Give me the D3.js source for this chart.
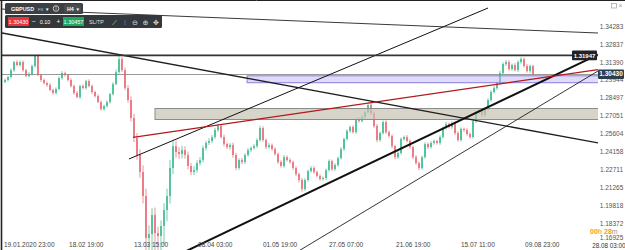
<!DOCTYPE html>
<html>
<head>
<meta charset="utf-8">
<script src="https://cdn.jsdelivr.net/npm/d3@7"></script>
<style>
body { margin: 0; background: #fff; }
svg { display: block; font-family: "Liberation Sans", Arial, sans-serif; }
</style>
</head>
<body>
<svg id="chart" width="625" height="250"></svg>
<script>
// GBPUSD H4, prices kept in pips (price * 10000)
var firstOpen = 12980;
var closes = [
  12996, 13020, 13076, 13141, 13117, 13141, 13076, 13028, 13044, 13109,
  13190, 13036, 12996, 12971, 12955, 12915, 12891, 12923, 13012, 13052,
  13036, 12996, 12947, 12891, 12858, 12947, 12931, 12987, 12947, 12899,
  12866, 12818, 12761, 12785, 12818, 12882, 12963, 13060, 13165, 13076,
  12931, 12834, 12689, 12527, 12390, 12252, 12058, 11719, 11751, 11905,
  11759, 11735, 11816, 11945, 12058, 12285, 12462, 12414, 12398, 12430,
  12390, 12301, 12252, 12268, 12325, 12349, 12446, 12487, 12503, 12535,
  12592, 12624, 12535, 12478, 12454, 12470, 12390, 12285, 12349, 12333,
  12390, 12430, 12446, 12462, 12511, 12608, 12511, 12454, 12470, 12438,
  12398, 12333, 12301, 12373, 12349, 12333, 12285, 12236, 12188, 12115,
  12188, 12260, 12285, 12252, 12220, 12196, 12204, 12268, 12341, 12276,
  12309, 12365, 12438, 12519, 12584, 12616, 12575, 12680, 12664, 12697,
  12737, 12794, 12729, 12624, 12511, 12567, 12656, 12575, 12543, 12462,
  12373, 12406, 12519, 12535, 12503, 12454, 12373, 12325, 12285, 12373,
  12478, 12454, 12487, 12503, 12487, 12535, 12608, 12640, 12616, 12648,
  12567, 12511, 12600, 12592, 12559, 12535, 12664, 12737, 12745, 12713,
  12761, 12834, 12899, 12931, 12971, 13052, 13125, 13141, 13084, 13117,
  13076, 13141, 13165, 13109, 13068, 13109, 13043
];
var wickHi = [
  12, 10, 14, 9, 16, 11, 13, 10, 15, 12,
  10, 14, 9, 12, 11, 16, 10, 13, 12, 15,
  11, 9, 14, 12, 16, 10, 13, 11, 15, 12,
  10, 14, 12, 11, 13, 9, 16, 20, 35, 18,
  22, 25, 30, 35, 40, 45, 55, 60, 70, 55,
  60, 50, 45, 55, 60, 65, 50, 45, 40, 35,
  30, 28, 25, 30, 22, 25, 20, 18, 22, 16,
  18, 20, 15, 18, 14, 16, 20, 17, 15, 18,
  14, 16, 12, 15, 13, 18, 14, 12, 16, 13,
  15, 12, 14, 16, 13, 15, 12, 14, 11, 15,
  13, 12, 16, 14, 11, 15, 13, 12, 14, 11,
  15, 13, 16, 12, 14, 13, 15, 12, 16, 14,
  13, 18, 15, 12, 16, 14, 13, 15, 12, 14,
  11, 15, 13, 12, 16, 14, 12, 15, 13, 11,
  14, 12, 15, 13, 11, 14, 12, 16, 13, 15,
  12, 14, 13, 11, 15, 12, 14, 13, 16, 12,
  14, 13, 15, 16, 12, 18, 14, 16, 15, 13,
  17, 14, 15, 13, 16, 12, 10
];
var wickLo = [
  10, 13, 9, 15, 11, 12, 14, 10, 13, 11,
  12, 10, 15, 11, 14, 9, 13, 12, 10, 14,
  13, 11, 12, 15, 10, 14, 12, 13, 11, 16,
  12, 10, 13, 15, 11, 14, 12, 10, 14, 16,
  18, 22, 28, 32, 38, 45, 60, 300, 300, 180,
  220, 240, 200, 150, 90, 60, 50, 45, 40, 35,
  30, 28, 25, 24, 22, 20, 18, 20, 16, 18,
  15, 17, 14, 18, 16, 20, 22, 18, 15, 16,
  14, 13, 16, 12, 15, 14, 13, 16, 12, 15,
  14, 16, 13, 15, 12, 14, 16, 18, 20, 22,
  16, 14, 13, 15, 12, 14, 13, 16, 12, 15,
  13, 14, 12, 16, 13, 15, 12, 14, 13, 12,
  14, 13, 16, 15, 18, 14, 12, 15, 13, 16,
  18, 14, 13, 15, 12, 14, 16, 13, 18, 14,
  13, 15, 12, 14, 13, 15, 12, 14, 13, 15,
  16, 14, 12, 15, 13, 14, 12, 15, 13, 14,
  12, 15, 14, 13, 16, 12, 14, 15, 13, 14,
  12, 15, 13, 14, 12, 16, 10
];

var priceTicks = [1.34283, 1.32837, 1.31390, 1.29944, 1.28497, 1.27051, 1.25604,
  1.24158, 1.22711, 1.21265, 1.19818, 1.18372, 1.16925];
var timeTickIdx = [0, 21.7, 43.3, 64.7, 86.3, 108.3, 130.7, 152.3, 173.7];
var timeTickLabels = ["19.01.2020 23:00", "18.02 19:00", "13.03 15:00", "08.04 03:00",
  "01.05 19:00", "27.05 07:00", "21.06 19:00", "15.07 11:00", "09.08 23:00"];

var bidPrice = 1.30430;
var askPrice = 1.30457;
var lotSize = "0.10";
var levelPrice = 1.31947;
var purpleZone = [80.7, 1.29740, 1.30300];   // from candle index, low, high
var grayZone = [50, 1.26768, 1.27657];

// drawn lines: [candle index, price] pairs
var topLine = [[-1.67, 1.35697], [197.67, 1.33757]];
var fallLine = [[-1, 1.33757], [197.67, 1.24870]];
var riseThin = [[41.33, 1.23577], [161, 1.35778]];
var riseThick = [[57.67, 1.15820], [197.67, 1.32012]];
var riseLow = [[95.67, 1.15820], [197.67, 1.30687]];
var redLine = [[42.67, 1.25330], [197.67, 1.30800]];

var plotLeft = 2, plotRight = 598, plotBottom = 250;
var svg = d3.select("#chart");

var x = d3.scaleLinear().domain([0, closes.length - 1]).range([5, 533]);
var y = d3.scaleLinear().domain([1.16925, 1.34283]).range([241.3, 26.5]);

var candles = closes.map(function (c, i) {
  var o = i ? closes[i - 1] : firstOpen;
  return {
    i: i,
    o: o / 1e4,
    c: c / 1e4,
    h: (Math.max(o, c) + wickHi[i]) / 1e4,
    l: (Math.min(o, c) - wickLo[i]) / 1e4
  };
});

svg.append("defs").append("clipPath").attr("id", "plotClip")
  .append("rect").attr("x", plotLeft).attr("y", 0)
  .attr("width", plotRight - plotLeft).attr("height", plotBottom);

svg.append("rect").attr("width", 625).attr("height", 250).attr("fill", "#fff");

var plot = svg.append("g").attr("clip-path", "url(#plotClip)");

/* current price line */
plot.append("line")
  .attr("x1", plotLeft).attr("x2", plotRight)
  .attr("y1", Math.round(y(bidPrice)) + 0.5).attr("y2", Math.round(y(bidPrice)) + 0.5)
  .attr("stroke", "#9a9a9a").attr("stroke-width", 1);

/* candles */
function candleColor(d) { return d.c >= d.o ? "#2fb785" : "#e5606c"; }

var candle = plot.selectAll("g.candle").data(candles).enter()
  .append("g").attr("class", "candle");

candle.append("line")
  .attr("x1", function (d) { return x(d.i); })
  .attr("x2", function (d) { return x(d.i); })
  .attr("y1", function (d) { return y(d.h); })
  .attr("y2", function (d) { return y(d.l); })
  .attr("stroke", candleColor).attr("stroke-width", 0.9).attr("opacity", 0.75);

candle.append("rect")
  .attr("x", function (d) { return x(d.i) - 0.8; })
  .attr("width", 1.6)
  .attr("y", function (d) { return y(Math.max(d.o, d.c)); })
  .attr("height", function (d) { return Math.max(1, Math.abs(y(d.o) - y(d.c))); })
  .attr("fill", candleColor).attr("opacity", 0.9);

/* zones */
plot.append("rect")
  .attr("x", x(grayZone[0])).attr("width", plotRight - x(grayZone[0]) + 2)
  .attr("y", y(grayZone[2])).attr("height", y(grayZone[1]) - y(grayZone[2]))
  .attr("fill", "#c6c2b4").attr("fill-opacity", 0.7)
  .attr("stroke", "#8c8c8c").attr("stroke-width", 1);

plot.append("rect")
  .attr("x", x(purpleZone[0])).attr("width", plotRight - x(purpleZone[0]) + 2)
  .attr("y", y(purpleZone[2])).attr("height", y(purpleZone[1]) - y(purpleZone[2]))
  .attr("fill", "#bdb6f2").attr("fill-opacity", 0.5)
  .attr("stroke", "#8a7fde").attr("stroke-width", 1);

/* trend lines */
var line = d3.line()
  .x(function (d) { return x(d[0]); })
  .y(function (d) { return y(d[1]); });

function drawLine(pts, color, w) {
  plot.append("path").datum(pts).attr("d", line)
    .attr("fill", "none").attr("stroke", color).attr("stroke-width", w);
}
drawLine(topLine, "#3a3a3a", 1);
drawLine(fallLine, "#1e1e1e", 1.3);
drawLine(riseThin, "#111", 1);
drawLine(riseLow, "#1e1e1e", 0.9);
drawLine(riseThick, "#111", 2);
drawLine(redLine, "#b3191c", 1.3);

/* horizontal level */
plot.append("line")
  .attr("x1", plotLeft).attr("x2", plotRight)
  .attr("y1", y(levelPrice)).attr("y2", y(levelPrice))
  .attr("stroke", "#353535").attr("stroke-width", 1.8);

/* frame */
svg.append("line").attr("x1", 1.5).attr("x2", 1.5).attr("y1", 0).attr("y2", 250)
  .attr("stroke", "#222").attr("stroke-width", 1.6);
svg.append("line").attr("x1", 0).attr("x2", 625).attr("y1", 0.5).attr("y2", 0.5)
  .attr("stroke", "#222").attr("stroke-width", 1);

/* price axis */
var priceAxis = svg.append("g").attr("font-size", 6.5).attr("fill", "#555");
priceAxis.selectAll("text").data(priceTicks).enter().append("text")
  .attr("x", 611.5)
  .attr("y", function (d, i) { return y(d) + (i === priceTicks.length - 1 ? -1.5 : 2.3); })
  .attr("text-anchor", "middle")
  .text(function (d) { return d.toFixed(5); });

/* time axis */
var timeAxis = svg.append("g").attr("font-size", 6.5).attr("fill", "#444");
timeAxis.selectAll("text").data(timeTickIdx).enter().append("text")
  .attr("x", function (d) { return x(d) - 1; })
  .attr("y", 246.5)
  .text(function (d, i) { return timeTickLabels[i]; });

svg.append("text").attr("x", 609).attr("y", 247.5).attr("text-anchor", "middle")
  .attr("font-size", 6.3).attr("fill", "#333").text("28.08 03:00");

var timer = svg.append("text").attr("x", 590).attr("y", 234).attr("font-size", 7)
  .attr("font-weight", "bold");
timer.append("tspan").attr("fill", "#f29a1e").text("00");
timer.append("tspan").attr("fill", "#f4b055").text("h ");
timer.append("tspan").attr("fill", "#f29a1e").text("28");
timer.append("tspan").attr("fill", "#999").attr("font-weight", "normal").text("m");

/* price tags */
function priceTag(px, value, x0, w, fill) {
  var yy = y(value);
  svg.append("rect").attr("x", x0).attr("y", yy - 4.8).attr("width", w).attr("height", 9.6)
    .attr("rx", 1).attr("fill", fill);
  svg.append("text").attr("x", x0 + w / 2).attr("y", yy + 2.3).attr("text-anchor", "middle")
    .attr("font-size", px).attr("font-weight", "bold").attr("fill", "#fff")
    .text(value.toFixed(5));
}
priceTag(6, levelPrice, 572, 25, "#1f2326");
priceTag(6.5, bidPrice, 598, 26, "#2c3e4c");

/* window icons */
svg.append("rect").attr("x", 611.5).attr("y", 3.5).attr("width", 5).attr("height", 4.5)
  .attr("fill", "none").attr("stroke", "#aaa").attr("stroke-width", 0.8);
svg.append("text").attr("x", 618.5).attr("y", 8.3).attr("font-size", 6.5).attr("fill", "#999").text("×");

/* toolbar */
var tb = svg.append("g").attr("fill", "#fff");
tb.append("rect").attr("x", 5).attr("y", 3).attr("width", 78).attr("height", 11).attr("rx", 1.5)
  .attr("fill", "#3b4045");
tb.append("text").attr("x", 11).attr("y", 10.9).attr("font-size", 5.4).attr("font-weight", "bold")
  .text("GBPUSD");
tb.append("text").attr("x", 38).attr("y", 10.8).attr("font-size", 4.3).attr("fill", "#c8c8c8").text("FX");
tb.append("text").attr("x", 45).attr("y", 10.6).attr("font-size", 4.5).text("▼");
tb.append("circle").attr("cx", 56).attr("cy", 8.5).attr("r", 2.8).attr("fill", "none")
  .attr("stroke", "#fff").attr("stroke-width", 0.7);
tb.append("text").attr("x", 56).attr("y", 10.3).attr("font-size", 4.5).attr("text-anchor", "middle").text("i");
tb.append("rect").attr("x", 64).attr("y", 4.5).attr("width", 17).attr("height", 8).attr("rx", 1)
  .attr("fill", "#474d53");
tb.append("text").attr("x", 67).attr("y", 10.8).attr("font-size", 5.3).attr("font-weight", "bold").text("H4");
tb.append("text").attr("x", 75.5).attr("y", 10.6).attr("font-size", 4.5).text("▼");

tb.append("rect").attr("x", 5).attr("y", 15).attr("width", 157).attr("height", 13).attr("rx", 1.5)
  .attr("fill", "#33383d");
tb.append("rect").attr("x", 8).attr("y", 17).attr("width", 21).attr("height", 9).attr("fill", "#e7353c");
tb.append("text").attr("x", 18.5).attr("y", 23.5).attr("font-size", 5.5).attr("text-anchor", "middle")
  .text(bidPrice.toFixed(5));
tb.append("text").attr("x", 34).attr("y", 24).attr("font-size", 6.5).attr("text-anchor", "middle").text("−");
tb.append("text").attr("x", 45).attr("y", 23.8).attr("font-size", 5.5).attr("text-anchor", "middle").text(lotSize);
tb.append("text").attr("x", 58.5).attr("y", 24).attr("font-size", 6.5).attr("text-anchor", "middle").text("+");
tb.append("rect").attr("x", 63).attr("y", 17).attr("width", 21).attr("height", 9).attr("fill", "#1fa862");
tb.append("text").attr("x", 73.5).attr("y", 23.5).attr("font-size", 5.5).attr("text-anchor", "middle")
  .text(askPrice.toFixed(5));
tb.append("text").attr("x", 89).attr("y", 23.8).attr("font-size", 5.3).attr("fill", "#e0e0e0").text("SL/TP");
var icons = ["⟋", "⫶", "⊖", "⊕", "✥"];
tb.selectAll("text.icon").data(icons).enter().append("text").attr("class", "icon")
  .attr("x", function (d, i) { return 114 + i * 10.5; })
  .attr("y", 24.5).attr("font-size", 7).attr("text-anchor", "middle")
  .attr("font-family", "DejaVu Sans").attr("fill", "#d8d8d8")
  .text(function (d) { return d; });
</script>
</body>
</html>
